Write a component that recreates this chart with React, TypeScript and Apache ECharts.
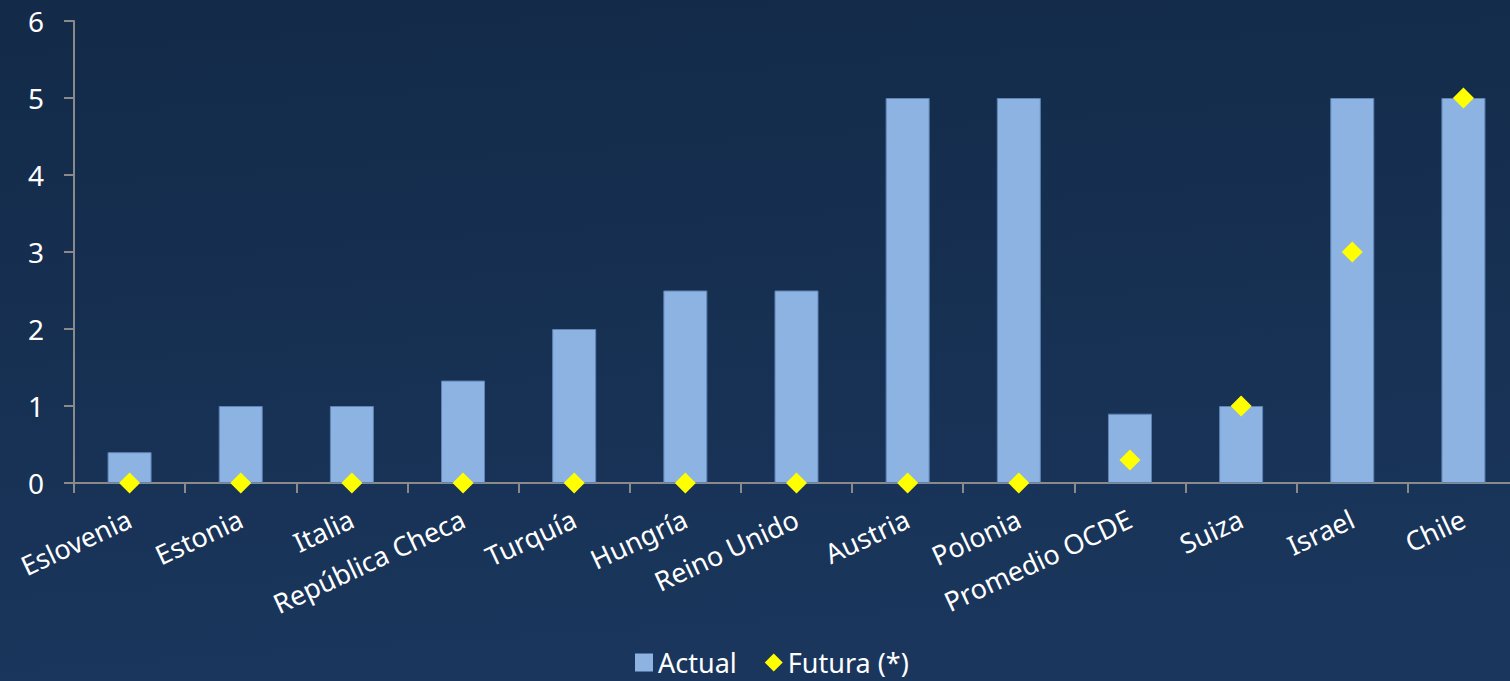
import React, { useEffect, useRef } from "react";
import * as echarts from "echarts";

const categories = [
  "Eslovenia",
  "Estonia",
  "Italia",
  "República Checa",
  "Turquía",
  "Hungría",
  "Reino Unido",
  "Austria",
  "Polonia",
  "Promedio OCDE",
  "Suiza",
  "Israel",
  "Chile",
];
const actualValues = [0.4, 1, 1, 1.33, 2, 2.5, 2.5, 5, 5, 0.9, 1, 5, 5];
const futuraValues = [0, 0, 0, 0, 0, 0, 0, 0, 0, 0.3, 1, 3, 5];
const yTicks = [0, 1, 2, 3, 4, 5, 6];

const FONT = "'Noto Sans', 'Open Sans', sans-serif";

export default function App() {
  const ref = useRef<HTMLDivElement>(null);
  useEffect(() => {
    if (!ref.current) return;
    const chart = echarts.init(ref.current, null, { renderer: "svg" });
    chart.setOption({
      animation: false,
      backgroundColor: {
        type: "linear",
        x: 0,
        y: 0,
        x2: 0.15,
        y2: 1,
        colorStops: [
          { offset: 0, color: "#132a48" },
          { offset: 1, color: "#1a365c" },
        ],
      },
      grid: { left: 74, top: 21, right: 11, bottom: 198, containLabel: false },
      legend: {
        bottom: 0,
        left: 630,
        itemWidth: 18,
        itemHeight: 18,
        itemGap: 28,
        textStyle: { color: "#ffffff", fontSize: 27, fontFamily: FONT },
        data: [
          { name: "Actual", icon: "rect", itemStyle: { borderWidth: 0 } },
          { name: "Futura (*)", icon: "diamond" },
        ],
      },
      xAxis: {
        type: "category",
        data: categories,
        boundaryGap: true,
        axisLine: { show: true, lineStyle: { color: "#8a8a8a", width: 2 } },
        axisTick: { show: true, length: 10, alignWithLabel: false, lineStyle: { color: "#8a8a8a", width: 2 } },
        axisLabel: {
          interval: 0,
          rotate: 25,
          margin: 34,
          color: "#ffffff",
          fontSize: 27,
          fontFamily: FONT,
        },
        splitLine: { show: false },
      },
      yAxis: {
        type: "value",
        min: yTicks[0],
        max: yTicks[yTicks.length - 1],
        interval: 1,
        axisLine: { show: true, lineStyle: { color: "#8a8a8a", width: 2 } },
        axisTick: { show: true, length: 10, lineStyle: { color: "#8a8a8a", width: 2 } },
        axisLabel: { color: "#ffffff", fontSize: 28, fontFamily: FONT, margin: 30 },
        splitLine: { show: false },
      },
      series: [
        {
          name: "Actual",
          type: "bar",
          data: actualValues,
          barWidth: 44,
          itemStyle: { color: "#8db3e2", borderColor: "#5f84b5", borderWidth: 1 },
        },
        {
          name: "Futura (*)",
          type: "scatter",
          data: futuraValues,
          symbol: "diamond",
          symbolSize: 21,
          itemStyle: { color: "#ffff00", opacity: 1 },
          z: 5,
        },
      ],
    });
    return () => chart.dispose();
  }, []);
  return (
    <div
      ref={ref}
      style={{ position: "fixed", left: 0, top: 0, width: 1530, height: 681 }}
    />
  );
}
